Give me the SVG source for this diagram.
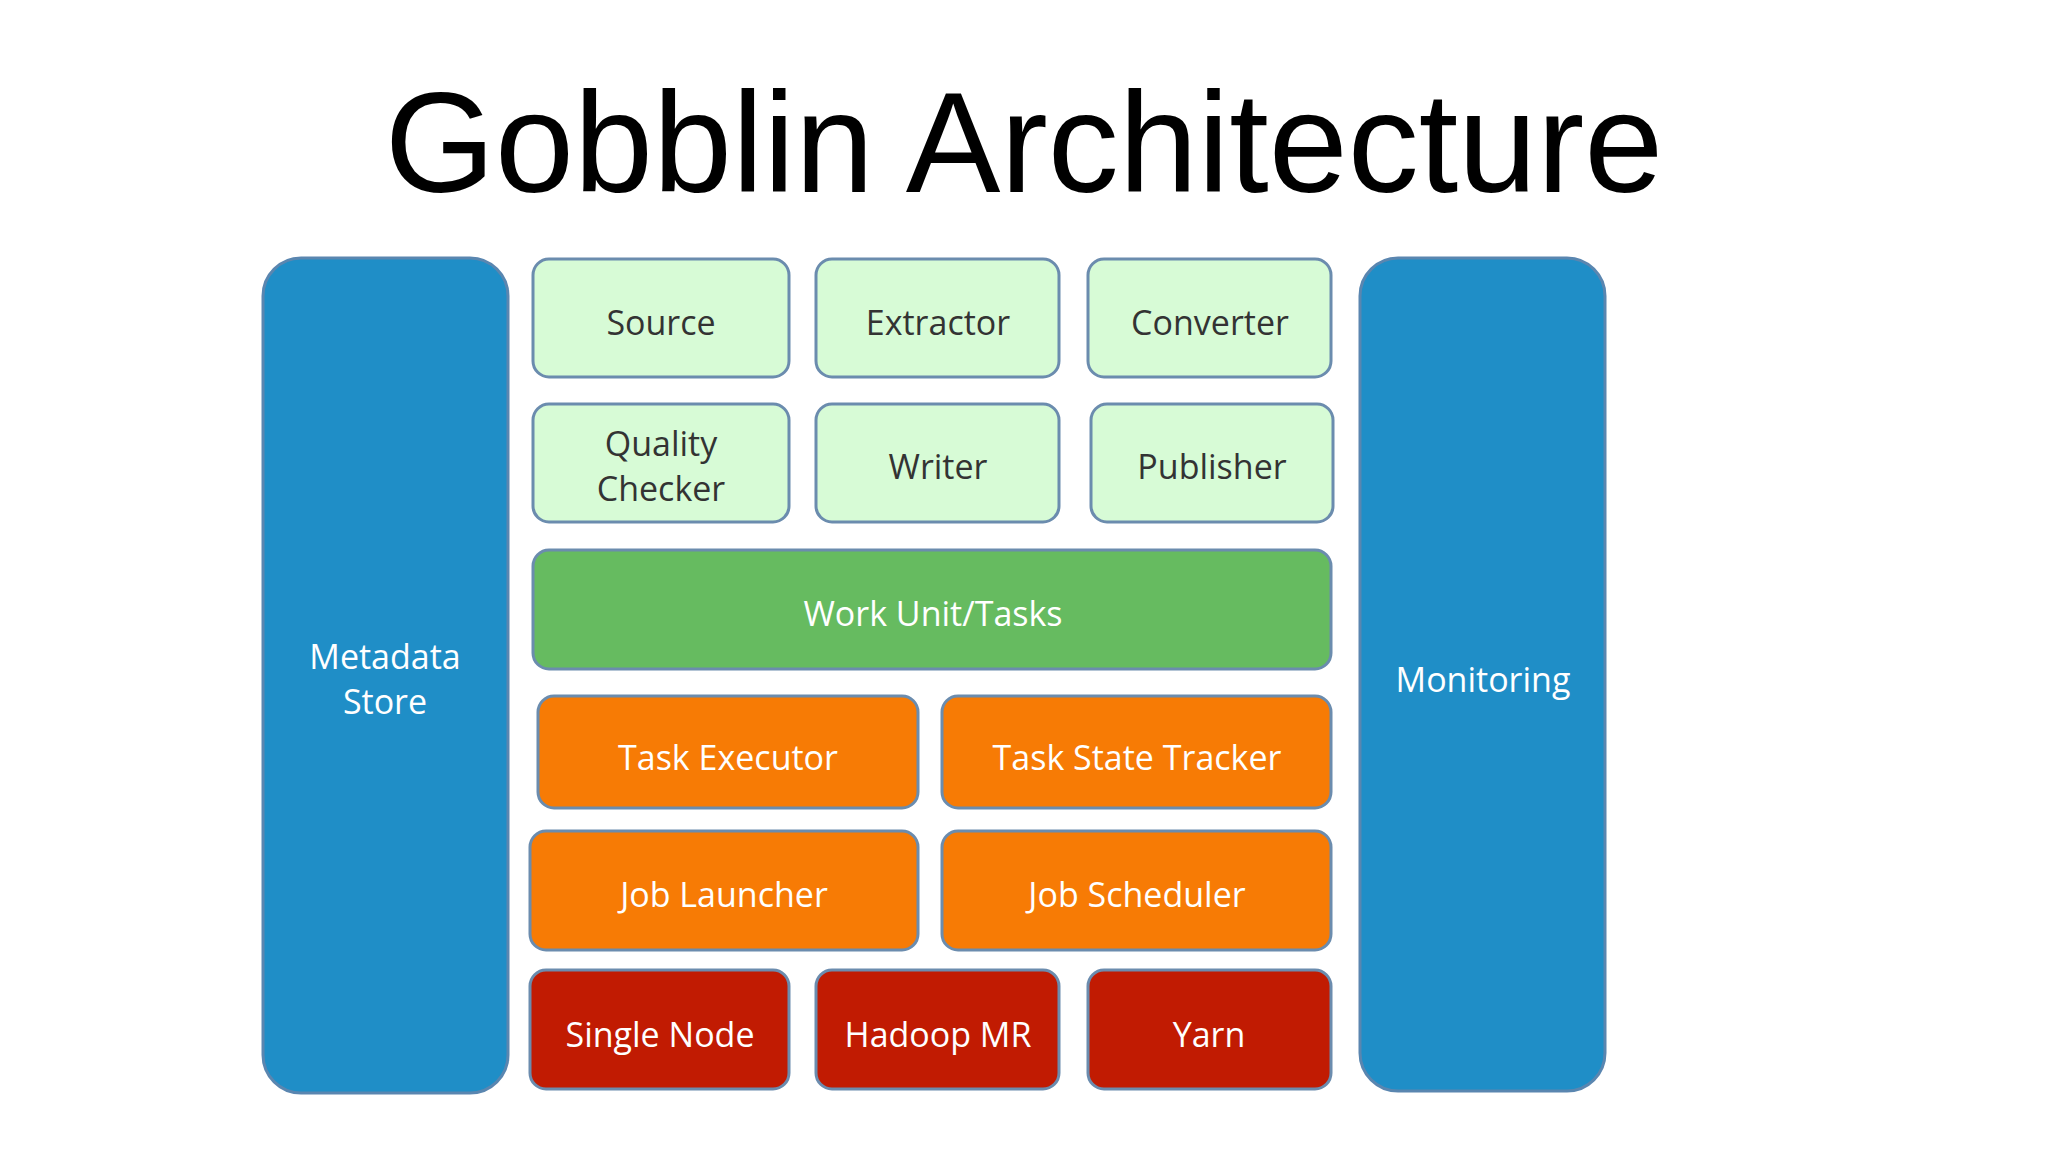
<svg xmlns="http://www.w3.org/2000/svg" width="2048" height="1152" viewBox="0 0 2048 1152">
<style>
.b{stroke:#6b8cae;stroke-width:3}
.lg{fill:#d7fbd6}.g{fill:#66bb60}.o{fill:#f77b05}.r{fill:#c11b02}.bl{fill:#1f8ec7;stroke:#5a86b0;stroke-width:3}
text{font-family:"Open Sans","Liberation Sans",sans-serif;font-size:34px;text-anchor:middle;dominant-baseline:central}
.d{fill:#333}.w{fill:#fff}
</style>
<rect width="2048" height="1152" fill="#fff"/>
<text x="1024" y="142" style="font-family:'Liberation Sans',Arial,sans-serif;font-size:142px;fill:#000">Gobblin Architecture</text>
<g id="metadata"><rect class="bl" x="263" y="258" width="245" height="835" rx="38"/><text class="w" x="385" y="656">Metadata</text><text class="w" x="385" y="701">Store</text></g>
<g id="monitoring"><rect class="bl" x="1360" y="258" width="245" height="833" rx="38"/><text class="w" x="1483" y="679">Monitoring</text></g>
<g id="source"><rect class="b lg" x="533" y="259" width="256" height="118" rx="16"/><text class="d" x="661" y="322">Source</text></g>
<g id="extractor"><rect class="b lg" x="816" y="259" width="243" height="118" rx="16"/><text class="d" x="938" y="322">Extractor</text></g>
<g id="converter"><rect class="b lg" x="1088" y="259" width="243" height="118" rx="16"/><text class="d" x="1210" y="322">Converter</text></g>
<g id="quality"><rect class="b lg" x="533" y="404" width="256" height="118" rx="16"/><text class="d" x="661" y="443">Quality</text><text class="d" x="661" y="488">Checker</text></g>
<g id="writer"><rect class="b lg" x="816" y="404" width="243" height="118" rx="16"/><text class="d" x="938" y="466">Writer</text></g>
<g id="publisher"><rect class="b lg" x="1091" y="404" width="242" height="118" rx="16"/><text class="d" x="1212" y="466">Publisher</text></g>
<g id="workunit"><rect class="b g" x="533" y="550" width="798" height="119" rx="16"/><text class="w" x="933" y="613">Work Unit/Tasks</text></g>
<g id="taskexec"><rect class="b o" x="538" y="696" width="380" height="112" rx="16"/><text class="w" x="728" y="757">Task Executor</text></g>
<g id="taskstate"><rect class="b o" x="942" y="696" width="389" height="112" rx="16"/><text class="w" x="1137" y="757">Task State Tracker</text></g>
<g id="joblauncher"><rect class="b o" x="530" y="831" width="388" height="119" rx="16"/><text class="w" x="724" y="894">Job Launcher</text></g>
<g id="jobscheduler"><rect class="b o" x="942" y="831" width="389" height="119" rx="16"/><text class="w" x="1137" y="894">Job Scheduler</text></g>
<g id="singlenode"><rect class="b r" x="530" y="970" width="259" height="119" rx="16"/><text class="w" x="660" y="1034">Single Node</text></g>
<g id="hadoop"><rect class="b r" x="816" y="970" width="243" height="119" rx="16"/><text class="w" x="938" y="1034">Hadoop MR</text></g>
<g id="yarn"><rect class="b r" x="1088" y="970" width="243" height="119" rx="16"/><text class="w" x="1209" y="1034">Yarn</text></g>
<g id="connectors"></g>
</svg>
